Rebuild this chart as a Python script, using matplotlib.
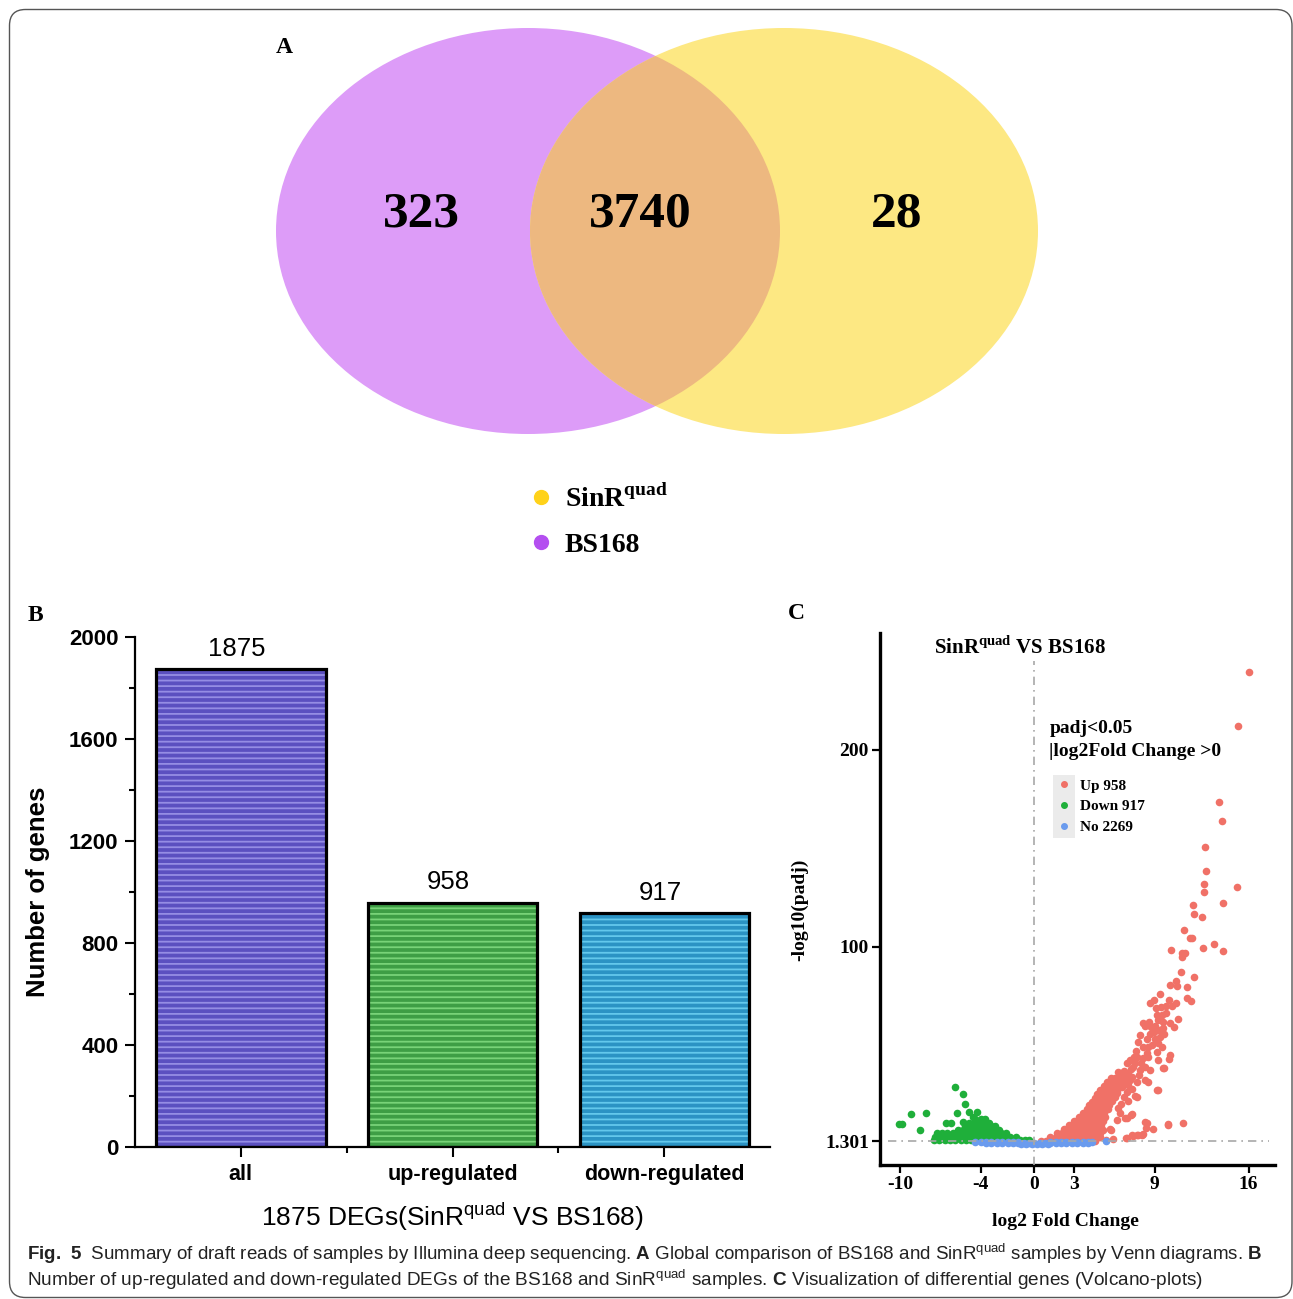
import matplotlib
matplotlib.use('Agg')
import matplotlib.pyplot as plt
from matplotlib.patches import Ellipse, Rectangle, FancyBboxPatch
from matplotlib.lines import Line2D
from matplotlib.font_manager import FontProperties, fontManager
import numpy as np

W, H = 1293, 1299

# ---------------- data ----------------
venn_counts = [323, 3740, 28]          # BS168 only, shared, SinRquad only
venn_labels = ['SinR$^{\\mathrm{quad}}$', 'BS168']

bar_categories = ['all', 'up-regulated', 'down-regulated']
bar_values = [1875, 958, 917]
bar_yticks = [0, 400, 800, 1200, 1600, 2000]

volcano_xticks = [-10, -4, 0, 3, 9, 16]
volcano_yticks = [1.301, 100, 200]
volcano_ytick_labels = ['1.301', '100', '200']
group_names = ['Up', 'Down', 'No']
group_counts = [958, 917, 2269]
padj_line = 1.301
fc_line = 0

# up-regulated genes (log2FC, -log10 padj): scattered points
up_scatter = [
    (16.06, 239.1), (15.19, 211.8), (13.77, 173.4), (14.04, 163.9), (12.77, 150.6),
    (12.82, 138.2), (12.70, 131.6), (12.70, 127.9), (15.11, 130.2),
    (11.88, 121.2), (14.12, 122.0), (11.93, 116.6), (12.55, 115.3), (11.18, 108.5),
    (11.63, 104.6), (11.80, 104.3), (12.62, 99.2), (13.45, 101.4), (14.07, 97.8),
    (10.19, 98.3), (11.01, 97.0), (11.26, 96.6), (11.06, 94.6), (10.96, 87.0),
    (11.93, 84.8), (10.14, 80.6), (10.58, 82.8), (10.68, 80.1), (11.43, 79.7),
    (9.39, 75.9), (10.09, 73.0), (10.58, 71.3), (11.43, 73.8), (11.68, 72.6),
    (8.64, 71.3), (8.94, 73.0), (9.09, 68.7), (9.44, 69.6), (9.51, 65.4), (9.14, 65.4),
    (9.26, 62.8), (9.64, 62.0), (9.84, 66.6), (10.14, 61.1), (10.71, 63.3), (10.43, 59.1),
    (8.09, 61.1), (8.27, 59.8), (8.69, 59.4), (9.59, 58.6), (9.69, 55.7), (9.39, 54.4),
    (9.26, 51.3), (8.64, 55.7), (7.89, 55.2), (7.77, 51.8), (8.14, 49.3), (8.52, 49.3),
    (9.51, 49.3), (10.14, 45.1), (10.09, 42.9), (9.64, 38.3), (9.26, 42.5), (9.14, 46.8),
    (8.52, 44.2), (8.14, 43.4), (7.70, 44.2), (7.45, 44.2), (7.15, 42.5), (6.90, 40.8),
    (7.40, 39.2), (7.89, 37.5), (8.27, 39.2), (8.64, 37.5), (6.53, 35.8), (6.28, 36.6),
    (6.77, 34.1), (7.15, 32.4), (7.65, 31.6), (8.27, 32.4), (8.52, 31.6), (9.21, 27.3),
    (6.28, 31.6), (5.90, 29.0), (5.53, 29.0), (6.53, 29.0), (6.90, 26.5), (6.15, 25.6),
    (7.52, 24.3), (6.28, 18.0), (6.90, 12.9), (7.27, 15.0), (5.11, 7.0), (5.65, 7.4),
    (8.27, 11.3), (8.34, 8.2), (8.89, 7.4), (10.01, 9.6), (11.13, 10.7), (4.91, 3.3),
    (5.36, 2.0), (6.90, 2.8), (7.27, 4.5), (7.65, 4.5), (8.02, 4.5),
    (5.8, 22.0), (6.0, 24.0), (6.2, 27.0), (6.4, 30.0), (6.6, 32.0), (6.0, 31.0),
    (6.4, 34.0), (6.7, 37.0), (7.0, 36.0), (7.2, 38.0), (7.5, 41.0), (7.0, 30.0),
    (7.3, 28.0), (6.7, 24.0), (6.5, 20.0), (7.0, 22.0), (7.8, 35.0), (8.0, 41.0),
    (8.4, 46.0), (8.8, 50.0), (9.0, 53.0), (8.4, 53.0), (8.9, 57.0), (7.6, 47.0),
    (7.3, 34.0), (8.6, 62.0), (9.0, 60.0), (9.8, 70.0), (9.3, 58.0), (10.3, 70.0),
    (6.15, 12.1), (6.77, 13.0), (7.19, 14.6), (6.40, 15.5), (7.65, 24.0), (5.71, 7.0),
    (5.90, 2.3), (6.85, 2.8), (7.39, 4.0), (7.77, 4.5), (8.14, 5.0), (8.39, 10.4),
    (9.19, 27.3), (9.69, 38.3), (10.01, 10.1),
]
# up-regulated genes: dense part, rows of -log10 padj -> log2FC values
up_dense = {
    1.6: [0.5, 0.9, 1.3, 1.7, 2.1, 2.5, 2.9, 3.3, 3.7, 4.1, 4.5],
    3.5: [1.2, 1.6, 2.0, 2.4, 2.8, 3.2, 3.6, 4.0, 4.4, 4.8],
    5.5: [1.7, 2.1, 2.5, 2.9, 3.3, 3.7, 4.1, 4.5, 4.9],
    7.5: [2.2, 2.6, 3.0, 3.4, 3.8, 4.2, 4.6, 5.0],
    9.5: [2.6, 3.0, 3.4, 3.8, 4.2, 4.6, 5.0],
    11.5: [3.0, 3.4, 3.8, 4.2, 4.6, 5.1],
    13.5: [3.3, 3.7, 4.1, 4.5, 4.9, 5.3],
    15.5: [3.6, 4.0, 4.4, 4.8, 5.2],
    17.5: [3.9, 4.3, 4.7, 5.1, 5.5],
    19.5: [4.1, 4.5, 4.9, 5.3, 5.6],
    21.5: [4.3, 4.7, 5.1, 5.5],
    23.5: [4.5, 4.9, 5.3, 5.7],
    25.5: [4.7, 5.1, 5.5, 5.8],
    27.5: [4.9, 5.3, 5.7, 6.0],
    29.5: [5.2, 5.6, 6.0],
    31.5: [5.4, 5.8, 6.1],
    33.5: [5.7, 6.0],
}
# down-regulated genes
down_scatter = [
    (-10.1, 10.1), (-9.9, 10.1), (-9.23, 15.0), (-8.11, 15.8), (-8.54, 7.0),
    (-5.94, 28.7), (-5.35, 25.3), (-5.18, 20.1), (-5.80, 15.5), (-4.88, 16.3),
    (-4.26, 16.3), (-6.59, 10.4), (-6.22, 10.4), (-5.30, 11.3), (-4.56, 13.8),
]
down_dense = {
    1.8: [-7.5, -7.1, -6.7, -6.3, -5.9, -5.5, -5.1, -4.7, -4.3, -3.9, -3.5, -3.1,
          -2.7, -2.3, -1.9, -1.5, -1.1, -0.7, -0.4],
    3.6: [-7.4, -7.0, -6.6, -6.2, -5.8, -5.4, -5.0, -4.6, -4.2, -3.8, -3.4, -3.0,
          -2.6, -2.2, -1.8, -1.4],
    5.4: [-7.3, -6.9, -6.5, -6.1, -5.7, -5.3, -4.9, -4.5, -4.1, -3.7, -3.3, -2.9,
          -2.5, -2.1],
    7.2: [-5.7, -5.3, -4.9, -4.5, -4.1, -3.7, -3.3, -2.9, -2.6],
    9.0: [-5.2, -4.8, -4.4, -4.0, -3.6, -3.2, -2.9],
    10.8: [-4.9, -4.5, -4.1, -3.7, -3.4],
    12.4: [-4.4, -4.0, -3.7],
}
# not significant genes
no_scatter = [(3.6, 0.3), (4.03, 0.4), (4.3, 0.8), (5.33, 1.4)]
no_dense = {
    1.0: [-4.4, -4.0, -3.6, -3.2, -2.8, -2.4, -2.0, -1.6, -1.2, 1.2, 1.6, 2.0,
          2.4, 2.8, 3.2, 3.6, 4.0],
    0.5: [-3.6, -3.2, -2.8, -2.4, -2.0, -1.6, -1.2, -0.8, -0.4, 0.0, 0.4, 0.8,
          1.2, 1.6, 2.0, 2.4, 2.8, 3.2],
    0.1: [-1.0, -0.6, -0.2, 0.2, 0.6, 1.0],
}


def collect(scatter, dense):
    pts = list(scatter) + [(x, y) for y, xs in dense.items() for x in xs]
    return np.array([p[0] for p in pts]), np.array([p[1] for p in pts])


# ---------------- style ----------------
names = {f.name for f in fontManager.ttflist}
SERIF = 'Liberation Serif'
SANS = 'Liberation Sans'
NARROW = 'Liberation Sans Narrow' if 'Liberation Sans Narrow' in names else 'Liberation Sans'
plt.rcParams['mathtext.fontset'] = 'custom'
plt.rcParams['mathtext.rm'] = SERIF + ':bold'
plt.rcParams['mathtext.sf'] = SANS
plt.rcParams['mathtext.tt'] = NARROW
plt.rcParams['mathtext.bf'] = NARROW + ':bold'
plt.rcParams['hatch.linewidth'] = 1.3

PURPLE, YELLOW, OVERLAP = '#DD9CF8', '#FDE883', '#EDB880'
RED, GREEN, BLUE = '#F07167', '#1FAF3A', '#6A9BEE'
bar_faces = ['#5B50C0', '#3E9E45', '#2B93C4']
bar_stripes = ['#958DE4', '#78D378', '#63C8EC']

fig = plt.figure(figsize=(W / 100, H / 100), dpi=100)


def fa(l, t, r, b):
    return [l / W, 1 - b / H, (r - l) / W, (b - t) / H]


# ---------------- panel B : bars ----------------
axb = fig.add_axes(fa(135, 637, 770, 1147))
xb = np.arange(len(bar_categories))
axb.bar(xb, bar_values, width=0.8, color=bar_faces, edgecolor=bar_stripes,
        linewidth=0, hatch='---', zorder=2)
axb.bar(xb, bar_values, width=0.8, fill=False, edgecolor='black', linewidth=2.3, zorder=3)
for xi, v in zip(xb, bar_values):
    axb.annotate(str(v), (xi, v), xytext=(-3, 6), textcoords='offset points',
                 ha='center', va='bottom', fontsize=18.5, family=SANS)
axb.set_xlim(-0.5, 2.5)
axb.set_ylim(0, 2000)
axb.set_yticks(bar_yticks)
axb.set_yticks([200, 600, 1000, 1400, 1800], minor=True)
axb.set_xticks(xb)
axb.set_xticks([0.5, 1.5], minor=True)
axb.set_xticklabels(bar_categories, fontsize=15.5, fontweight='bold', family=SANS)
for lab in axb.get_yticklabels():
    lab.set_fontsize(16); lab.set_fontweight('bold'); lab.set_family(SANS)
axb.tick_params(axis='both', which='major', direction='out', length=7, width=1.5)
axb.tick_params(axis='both', which='minor', direction='out', length=4, width=1.5)
axb.tick_params(axis='y', pad=5)
axb.tick_params(axis='x', pad=5)
for s in ['top', 'right']:
    axb.spines[s].set_visible(False)
for s in ['left', 'bottom']:
    axb.spines[s].set_linewidth(1.6)
axb.patch.set_alpha(0)

# ---------------- panel C : volcano ----------------
axv = fig.add_axes(fa(880, 633, 1275, 1165))
XL = (-11.52, 17.97)
YL = (-10.7, 259.1)
ux, uy = collect(up_scatter, up_dense)
dx, dy = collect(down_scatter, down_dense)
nx, ny = collect(no_scatter, no_dense)
axv.scatter(dx, dy, s=30, color=GREEN, linewidths=0, zorder=2)
axv.scatter(ux, uy, s=30, color=RED, linewidths=0, zorder=2)
axv.scatter(nx, ny, s=30, color=BLUE, linewidths=0, zorder=2.5)
dash = (0, (5, 3, 1, 3))
axv.plot([fc_line, fc_line], [YL[0], 245], color='#A8A8A8', lw=1.2, ls=dash, zorder=3)
axv.plot([-10.9, 17.5], [padj_line, padj_line], color='#A8A8A8', lw=1.2, ls=dash, zorder=3)
axv.set_xlim(*XL)
axv.set_ylim(*YL)
axv.set_xticks(volcano_xticks)
axv.set_xticklabels([str(t) for t in volcano_xticks])
axv.set_yticks(volcano_yticks)
axv.set_yticklabels(volcano_ytick_labels)
for lab in axv.get_xticklabels() + axv.get_yticklabels():
    lab.set_fontsize(14); lab.set_fontweight('bold'); lab.set_family(SERIF)
axv.tick_params(axis='both', direction='out', length=6, width=1.6, pad=2)
for s in ['top', 'right']:
    axv.spines[s].set_visible(False)
for s in ['left', 'bottom']:
    axv.spines[s].set_linewidth(2.4)
axv.patch.set_alpha(0)

# ---------------- overlay (pixel coordinates) ----------------
ov = fig.add_axes([0, 0, 1, 1])
ov.set_xlim(0, W)
ov.set_ylim(H, 0)
ov.axis('off')

# outer rounded frame
ov.add_patch(FancyBboxPatch((9.5, 9.5), 1282.5, 1288, boxstyle='round,pad=0,rounding_size=16',
                            fc='none', ec='#555555', lw=1.0, zorder=0))

# Venn
e_left = Ellipse((528, 231), 504, 406, fc=PURPLE, ec='none', zorder=1)
e_right = Ellipse((784, 231), 508, 406, fc=YELLOW, ec='none', zorder=1)
ov.add_patch(e_left)
ov.add_patch(e_right)
e_mid = Ellipse((784, 231), 508, 406, fc=OVERLAP, ec='none', zorder=1.5)
ov.add_patch(e_mid)
e_mid.set_clip_path(e_left)
vfont = dict(family=SERIF, fontweight='bold', fontsize=37, ha='center', va='center', zorder=3)
ov.text(421, 214, str(venn_counts[0]), **vfont)
ov.text(640, 214, str(venn_counts[1]), **vfont)
ov.text(897, 214, str(venn_counts[2]), **vfont)

venn_leg = ov.legend(
    [Line2D([], [], marker='o', ls='', color='#FFD21A', markersize=10),
     Line2D([], [], marker='o', ls='', color='#B44FF0', markersize=10)],
    venn_labels, loc='upper left', bbox_to_anchor=(530, 484), bbox_transform=ov.transData,
    frameon=False, borderpad=0, borderaxespad=0, handlelength=0.8, handletextpad=0.45,
    labelspacing=0.72, prop=FontProperties(family=SERIF, weight='bold', size=20))
ov.add_artist(venn_leg)

# panel letters
pl = dict(family=SERIF, fontweight='bold', fontsize=17, ha='center', va='center')
ov.text(284, 47, 'A', **pl)
ov.text(35, 615, 'B', **pl)
ov.text(796, 613, 'C', **pl)

# bar chart labels
ov.text(38, 892, 'Number of genes', rotation=90, ha='center', va='center',
        fontsize=18.5, fontweight='bold', family=SANS)
ov.text(452, 1217, '1875 DEGs(SinR$^{\\mathsf{quad}}$ VS BS168)', ha='center', va='center',
        fontsize=19, family=SANS)

# volcano labels
ov.text(1020, 654, 'SinR$^{\\mathrm{quad}}$ VS BS168', ha='center', va='baseline',
        fontsize=15, fontweight='bold', family=SERIF)
ov.text(1050, 728, 'padj<0.05', ha='left', va='center', fontsize=14,
        fontweight='bold', family=SERIF)
ov.text(1049, 751, '|log2Fold Change >0', ha='left', va='center', fontsize=14,
        fontweight='bold', family=SERIF)
ov.text(800, 910, '-log10(padj)', rotation=90, ha='center', va='center', fontsize=14,
        fontweight='bold', family=SERIF)
ov.text(1065, 1221, 'log2 Fold Change', ha='center', va='center', fontsize=14,
        fontweight='bold', family=SERIF)

ov.add_patch(Rectangle((1053, 775), 22, 63, fc='#EBEBEB', ec='none', zorder=1))
vleg = ov.legend(
    [Line2D([], [], marker='o', ls='', color=c, markersize=4) for c in (RED, GREEN, BLUE)],
    [f'{n} {c}' for n, c in zip(group_names, group_counts)],
    loc='upper left', bbox_to_anchor=(1056, 779), bbox_transform=ov.transData,
    frameon=False, borderpad=0, borderaxespad=0, handlelength=1.0, handletextpad=0.6,
    labelspacing=0.46, prop=FontProperties(family=SERIF, weight='bold', size=11))
vleg.set_zorder(5)

# caption
cap1 = ('$\\mathbf{Fig.\\ 5}$  Summary of draft reads of samples by Illumina deep sequencing. '
        '$\\mathbf{A}$ Global comparison of BS168 and SinR$^{\\mathtt{quad}}$ samples by Venn '
        'diagrams. $\\mathbf{B}$')
cap2 = ('Number of up-regulated and down-regulated DEGs of the BS168 and SinR$^{\\mathtt{quad}}$ '
        'samples. $\\mathbf{C}$ Visualization of differential genes (Volcano-plots)')
t1 = ov.text(27, 1254, cap1, ha='left', va='center', fontsize=13, family=NARROW, color='#222222')
t2 = ov.text(27, 1280, cap2, ha='left', va='center', fontsize=13, family=NARROW, color='#222222')
fig.canvas.draw()
r = fig.canvas.get_renderer()
for t, target in ((t1, 1235), (t2, 1170)):
    w = t.get_window_extent(r).width
    t.set_fontsize(13 * target / w)

fig.savefig('out.png', dpi=100)
